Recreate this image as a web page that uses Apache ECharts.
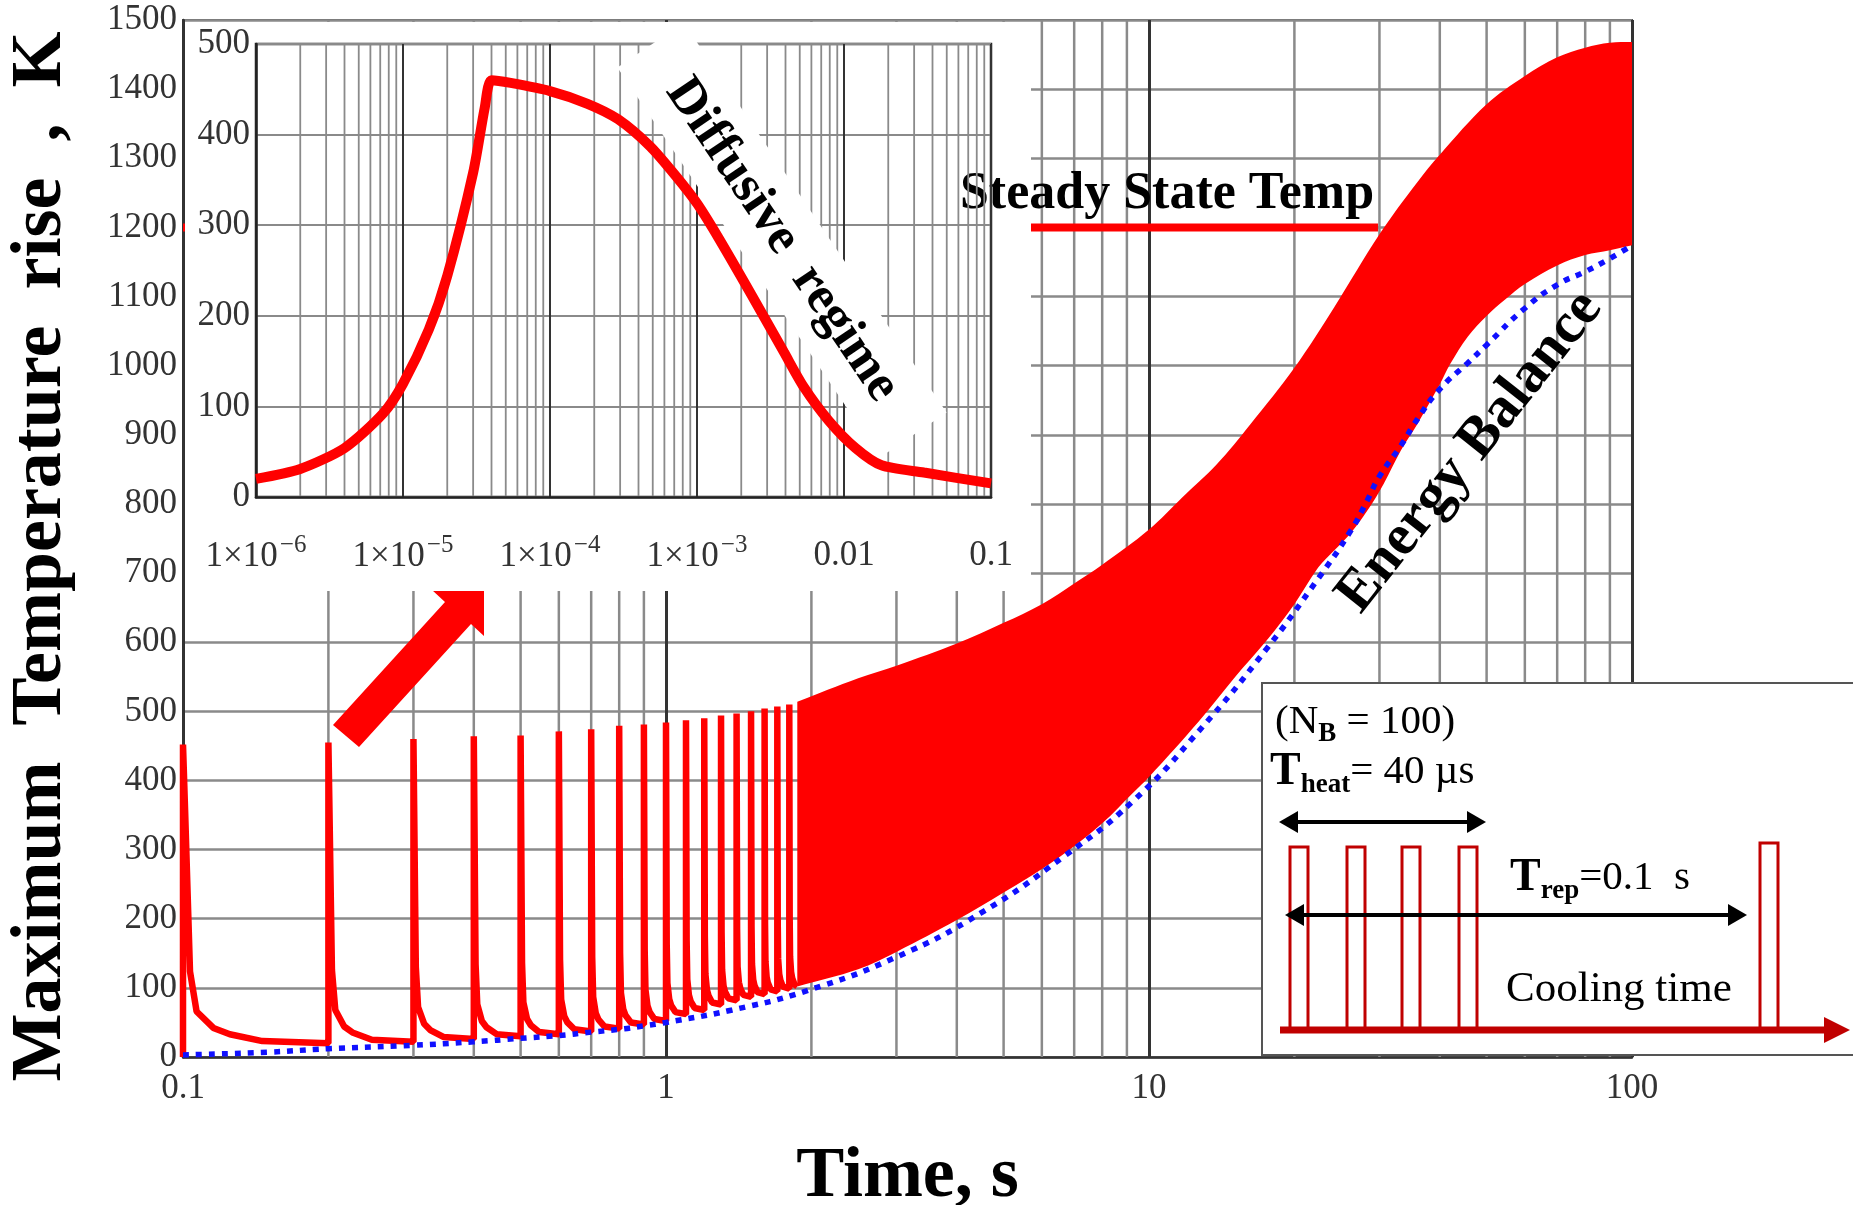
<!DOCTYPE html>
<html>
<head>
<meta charset="utf-8">
<script src="https://cdn.jsdelivr.net/npm/echarts@6.0.0/dist/echarts.min.js"></script>
<style>
html, body { margin: 0; padding: 0; background: #fff; }
#chart { width: 1853px; height: 1205px; }
</style>
</head>
<body>
<div id="chart"></div>
<script>
// ---- main chart: pulse train (time in s, temperature rise in K)
const spikeTimes = [0.1, 0.2, 0.3, 0.4, 0.5, 0.6, 0.7, 0.8, 0.9, 1.0, 1.1, 1.2, 1.3, 1.4, 1.5, 1.6, 1.7, 1.8];
const spikePeaks = [452, 455, 460, 464, 465, 471, 474, 479, 481, 484, 487, 490, 494, 497, 500, 504, 507, 510];
const spikeBases = [0, 20, 22, 26, 30, 33, 37, 41, 47, 52, 62, 68, 76, 82, 87, 91, 95, 99];
// shape of one spike's decay (seconds after pulse, share of the peak left)
const decayDt = [0, 0.001, 0.0025, 0.0034, 0.0067, 0.0156, 0.025, 0.046];
const decayFrac = [1, 0.78, 0.44, 0.24, 0.106, 0.051, 0.030, 0.007];

// dense part of the train: envelope of the band
const bandUpperTime = [1.87, 2.5, 3.0, 4.0, 5.0, 6.0, 7.0, 8.0, 10, 11.7, 13.8, 16.2, 20, 24.2, 30, 35.9, 40, 50, 60, 70, 80, 90, 100];
const bandUpperTemp = [514, 548, 566, 598, 628, 655, 685, 712, 763, 809, 857, 915, 997, 1085, 1190, 1265, 1305, 1378, 1419, 1446, 1460, 1467, 1468];
const bandLowerTime = [1.87, 2.5, 3.0, 4.0, 5.0, 6.0, 7.0, 8.0, 9.26, 10, 12.7, 15, 17.5, 20, 22.4, 24.2, 26.1, 28.3, 30.6, 33.2, 35.9, 40, 42, 45.7, 50, 54.7, 60, 70, 80, 90, 100];
const bandLowerTemp = [102, 127, 152, 198, 238, 272, 305, 338, 382, 405, 486, 548, 602, 655, 708, 733, 757, 790, 829, 877, 915, 973, 1002, 1042, 1072, 1096, 1118, 1145, 1160, 1167, 1174];

// energy balance (blue dotted)
const balanceTime = [0.1, 0.15, 0.2, 0.3, 0.4, 0.5, 0.6, 0.7, 0.8, 0.9, 1.0, 1.37, 1.96, 3.03, 4.48, 6.66, 9.26, 12.7, 17.5, 22.4, 26.1, 28.3, 30, 33.2, 35.9, 40, 45.7, 50, 60, 70, 80, 90, 100];
const balanceTemp = [3, 7, 12, 17, 22, 27, 31, 36, 40, 45, 50, 68, 96, 146, 208, 290, 370, 472, 590, 692, 760, 805, 840, 884, 922, 966, 1004, 1030, 1083, 1117, 1136, 1155, 1174];

// steady state temperature line
const steadyTemp = 1200;
const steadyTime = [0.1, 29.8];

// ---- inset: single pulse
const pulseTime = [1e-6, 2e-6, 4e-6, 7.3e-6, 1e-5, 1.5e-5, 2e-5, 3e-5, 3.6e-5, 4e-5, 5.4e-5, 1e-4, 1.8e-4, 2.9e-4, 4.8e-4, 7.2e-4, 1e-3, 1.4e-3, 2.35e-3, 3.9e-3, 5.3e-3, 7.9e-3, 1.2e-2, 1.8e-2, 3.5e-2, 0.1];
const pulseTemp = [20, 31, 54, 92, 125, 185, 244, 358, 430, 460, 457, 448, 434, 417, 387, 354, 324, 286, 223, 160, 122, 84, 54, 35, 27, 15];

// tick labels
const mainTickLabels = ['0.1', '1', '10', '100'];
const insetTickBase = ['1×10', '1×10', '1×10', '1×10', '0.01', '0.1'];
const insetTickExp = ['−6', '−5', '−4', '−3', '', ''];
const minorSteps = [2, 3, 4, 5, 6, 7, 8, 9];

const serif = "'Liberation Serif', 'Times New Roman', serif";
const labelColor = '#333';

function minorTicks(decades) {
  const out = [];
  decades.forEach(d => minorSteps.forEach(m => out.push([d * m, 0])));
  return out;
}

function spikeLine() {
  const pts = [];
  for (let k = 0; k < spikeTimes.length; k++) {
    const t = spikeTimes[k];
    const nextBase = k + 1 < spikeTimes.length ? spikeBases[k + 1] : bandLowerTemp[0];
    pts.push([t, spikeBases[k]]);
    pts.push([t, spikePeaks[k]]);
    for (let j = 1; j < decayDt.length; j++) {
      pts.push([t + decayDt[j], nextBase + (spikePeaks[k] - nextBase) * decayFrac[j]]);
    }
  }
  pts.push([bandLowerTime[0], bandLowerTemp[0]]);
  return pts;
}

function vLine(color, width, yMax) {
  return function (params, api) {
    const x = api.value(0);
    const a = api.coord([x, 0]);
    const b = api.coord([x, yMax]);
    return {
      type: 'line',
      shape: { x1: a[0], y1: a[1], x2: b[0], y2: b[1] },
      style: { stroke: color, lineWidth: width }
    };
  };
}

const zip = (xs, ys) => xs.map((x, i) => [x, ys[i]]);

const chart = echarts.init(document.getElementById('chart'));

const option = {
  animation: false,
  backgroundColor: '#fff',
  grid: [
    { left: 183, top: 20, width: 1449, height: 1037, show: true, borderColor: '#555', borderWidth: 2, z: 0, outerBoundsMode: 'none', containLabel: false },
    { left: 256, top: 44, width: 735, height: 453, show: true, borderColor: '#222', borderWidth: 2.5, z: 60, outerBoundsMode: 'none', containLabel: false }
  ],
  xAxis: [
    {
      type: 'log', gridIndex: 0, logBase: 10, min: 0.1, max: 100,
      axisLine: { show: true, lineStyle: { color: '#333', width: 2.5 } },
      axisTick: { show: false },
      splitLine: { show: true, lineStyle: { color: '#333', width: 3 } },
      axisLabel: {
        margin: 14, fontFamily: serif, fontSize: 35, color: labelColor,
        showMinLabel: true, showMaxLabel: true,
        formatter: v => mainTickLabels[Math.round(Math.log10(v)) + 1]
      },
      name: 'Time, s', nameLocation: 'middle', nameGap: 84,
      nameTextStyle: { fontFamily: serif, fontWeight: 'bold', fontSize: 72, color: '#000' }
    },
    {
      type: 'log', gridIndex: 1, logBase: 10, min: 1e-6, max: 0.1, z: 60,
      axisLine: { show: true, lineStyle: { color: '#222', width: 2.5 } },
      axisTick: { show: false },
      splitLine: { show: true, lineStyle: { color: '#333', width: 2 } },
      axisLabel: {
        margin: 36, color: labelColor, showMinLabel: true, showMaxLabel: true,
        formatter: v => {
          const i = Math.round(Math.log10(v)) + 6;
          return insetTickExp[i] ? '{m|' + insetTickBase[i] + '}{e|' + insetTickExp[i] + '}' : '{m|' + insetTickBase[i] + '}';
        },
        rich: {
          m: { fontFamily: serif, fontSize: 35, lineHeight: 46, color: labelColor },
          e: { fontFamily: serif, fontSize: 25, color: labelColor, verticalAlign: 'bottom', padding: [0, 0, 22, 2] }
        }
      }
    }
  ],
  yAxis: [
    {
      type: 'value', gridIndex: 0, min: 0, max: 1500, interval: 100,
      axisLine: { show: true, lineStyle: { color: '#333', width: 2.5 } },
      axisTick: { show: false },
      splitLine: { show: true, lineStyle: { color: '#8a8a8a', width: 2.5 } },
      axisLabel: { margin: 6, fontFamily: serif, fontSize: 35, color: labelColor, formatter: v => String(v) },
      name: 'Maximum  Temperature  rise  ,  K', nameLocation: 'middle', nameGap: 106, nameRotate: 90,
      nameTextStyle: { fontFamily: serif, fontWeight: 'bold', fontSize: 72, color: '#000', padding: [0, 36, 0, 0] }
    },
    {
      type: 'value', gridIndex: 1, min: 0, max: 500, interval: 100, z: 60,
      axisLine: { show: true, lineStyle: { color: '#222', width: 2.5 } },
      axisTick: { show: false },
      splitLine: { show: true, lineStyle: { color: '#8a8a8a', width: 2 } },
      axisLabel: { margin: 6, fontFamily: serif, fontSize: 35, color: labelColor, formatter: v => String(v) }
    }
  ],
  series: [
    {
      name: 'main minor grid', type: 'custom', xAxisIndex: 0, yAxisIndex: 0, z: 1, silent: true,
      data: minorTicks([0.1, 1, 10]), renderItem: vLine('#8a8a8a', 2.5, 1500)
    },
    {
      name: 'pulse band', type: 'custom', xAxisIndex: 0, yAxisIndex: 0, z: 3, silent: true, clip: true,
      data: [[bandUpperTime[0], bandUpperTemp[0]]],
      renderItem: function (params, api) {
        const pts = [];
        // corners are doubled so the smoothing keeps them sharp
        bandUpperTime.forEach((t, i) => pts.push(api.coord([t, bandUpperTemp[i]])));
        pts.push(pts[pts.length - 1].slice());
        const low = [];
        bandLowerTime.forEach((t, i) => low.push(api.coord([t, bandLowerTemp[i]])));
        low.reverse();
        pts.push(low[0].slice());
        low.forEach(p => pts.push(p));
        pts.push(low[low.length - 1].slice());
        pts.unshift(pts[0].slice());
        return { type: 'polygon', shape: { points: pts, smooth: 0.35 }, style: { fill: '#ff0000' } };
      }
    },
    {
      name: 'pulse train', type: 'line', xAxisIndex: 0, yAxisIndex: 0, z: 3,
      data: spikeLine(), showSymbol: false, clip: true,
      lineStyle: { color: '#ff0000', width: 6.5 }
    },
    {
      name: 'steady state', type: 'line', xAxisIndex: 0, yAxisIndex: 0, z: 3,
      data: steadyTime.map(t => [t, steadyTemp]), showSymbol: false,
      lineStyle: { color: '#ff0000', width: 8 }
    },
    {
      name: 'energy balance', type: 'line', xAxisIndex: 0, yAxisIndex: 0, z: 4,
      data: zip(balanceTime, balanceTemp), showSymbol: false, smooth: true,
      lineStyle: { color: '#1010ff', width: 5.5, type: [6, 7] }
    },
    {
      name: 'inset minor grid', type: 'custom', xAxisIndex: 1, yAxisIndex: 1, z: 60, silent: true,
      data: minorTicks([1e-6, 1e-5, 1e-4, 1e-3, 1e-2]), renderItem: vLine('#8a8a8a', 1.8, 500)
    },
    {
      name: 'single pulse', type: 'line', xAxisIndex: 1, yAxisIndex: 1, z: 63,
      data: zip(pulseTime, pulseTemp), showSymbol: false, smooth: 0.25,
      lineStyle: { color: '#ff0000', width: 10 }
    }
  ],
  graphic: [
    // white backing of the inset
    { type: 'rect', z: 50, silent: true, shape: { x: 185, y: 22, width: 846, height: 569 }, style: { fill: '#fff' } },
    // red arrow pointing to the inset
    {
      type: 'polygon', z: 40, silent: true,
      shape: { points: [[333, 725], [445, 602], [432, 590], [484, 584], [484, 636], [471, 624], [359, 747]] },
      style: { fill: '#ff0000' }
    },
    // Diffusive regime label
    {
      type: 'group', x: 782, y: 240, rotation: -56 * Math.PI / 180,
      children: [
        { type: 'rect', z: 61, silent: true, shape: { x: -235, y: -40, width: 470, height: 80 }, style: { fill: '#fff' } },
        {
          type: 'text', z: 64, silent: true,
          style: { text: 'Diffusive  regime', x: 0, y: 0, align: 'center', verticalAlign: 'middle', textAlign: 'center', textVerticalAlign: 'middle', font: 'bold 52px ' + serif, fill: '#000' }
        }
      ]
    },
    {
      type: 'text', z: 55, silent: true,
      style: { text: 'Steady State Temp', x: 1167, y: 195, align: 'center', verticalAlign: 'middle', textAlign: 'center', textVerticalAlign: 'middle', font: 'bold 52px ' + serif, fill: '#000' }
    },
    {
      type: 'group', x: 1470, y: 452, rotation: 51.7 * Math.PI / 180,
      children: [{
        type: 'text', z: 40, silent: true,
        style: { text: 'Energy Balance', x: 0, y: 0, align: 'center', verticalAlign: 'middle', textAlign: 'center', textVerticalAlign: 'middle', font: 'bold 58px ' + serif, fill: '#000' }
      }]
    },
    // schematic of the pulse sequence
    { type: 'rect', z: 50, silent: true, shape: { x: 1262, y: 683, width: 620, height: 372 }, style: { fill: '#fff', stroke: '#555', lineWidth: 2 } },
    {
      type: 'text', z: 51, silent: true,
      style: {
        text: '{n|(N}{s|B}{n| = 100)}', x: 1275, y: 722, verticalAlign: 'middle', textVerticalAlign: 'middle',
        rich: { n: { fontFamily: serif, fontSize: 41, lineHeight: 56, fill: '#000' }, s: { fontFamily: serif, fontSize: 27, fontWeight: 'bold', padding: [27, 0, 0, 0], verticalAlign: 'top', fill: '#000' } }
      }
    },
    {
      type: 'text', z: 51, silent: true,
      style: {
        text: '{b|T}{s|heat}{n|= 40 µs}', x: 1270, y: 772, verticalAlign: 'middle', textVerticalAlign: 'middle',
        rich: { b: { fontFamily: serif, fontSize: 46, fontWeight: 'bold', lineHeight: 60, fill: '#000' }, n: { fontFamily: serif, fontSize: 41, lineHeight: 60, fill: '#000' }, s: { fontFamily: serif, fontSize: 27, fontWeight: 'bold', padding: [30, 0, 0, 0], verticalAlign: 'top', fill: '#000' } }
      }
    },
    { type: 'line', z: 51, silent: true, shape: { x1: 1292, y1: 822, x2: 1472, y2: 822 }, style: { stroke: '#000', lineWidth: 4 } },
    { type: 'polygon', z: 51, silent: true, shape: { points: [[1279, 822], [1298, 811], [1298, 833]] }, style: { fill: '#000' } },
    { type: 'polygon', z: 51, silent: true, shape: { points: [[1486, 822], [1467, 811], [1467, 833]] }, style: { fill: '#000' } },
    { type: 'rect', z: 51, silent: true, shape: { x: 1290, y: 847, width: 18, height: 183 }, style: { fill: 'none', stroke: '#c00000', lineWidth: 3 } },
    { type: 'rect', z: 51, silent: true, shape: { x: 1347, y: 847, width: 18, height: 183 }, style: { fill: 'none', stroke: '#c00000', lineWidth: 3 } },
    { type: 'rect', z: 51, silent: true, shape: { x: 1402, y: 847, width: 18, height: 183 }, style: { fill: 'none', stroke: '#c00000', lineWidth: 3 } },
    { type: 'rect', z: 51, silent: true, shape: { x: 1459, y: 847, width: 18, height: 183 }, style: { fill: 'none', stroke: '#c00000', lineWidth: 3 } },
    { type: 'rect', z: 51, silent: true, shape: { x: 1760, y: 843, width: 18, height: 187 }, style: { fill: 'none', stroke: '#c00000', lineWidth: 3 } },
    { type: 'line', z: 51, silent: true, shape: { x1: 1280, y1: 1030, x2: 1828, y2: 1030 }, style: { stroke: '#c00000', lineWidth: 7 } },
    { type: 'polygon', z: 51, silent: true, shape: { points: [[1824, 1017], [1850, 1030], [1824, 1043]] }, style: { fill: '#c00000' } },
    {
      type: 'text', z: 51, silent: true,
      style: {
        text: '{b|T}{s|rep}{n|=0.1  s}', x: 1510, y: 878, verticalAlign: 'middle', textVerticalAlign: 'middle',
        rich: { b: { fontFamily: serif, fontSize: 46, fontWeight: 'bold', lineHeight: 60, fill: '#000' }, n: { fontFamily: serif, fontSize: 41, lineHeight: 60, fill: '#000' }, s: { fontFamily: serif, fontSize: 27, fontWeight: 'bold', padding: [30, 0, 0, 0], verticalAlign: 'top', fill: '#000' } }
      }
    },
    { type: 'line', z: 51, silent: true, shape: { x1: 1298, y1: 915, x2: 1733, y2: 915 }, style: { stroke: '#000', lineWidth: 4 } },
    { type: 'polygon', z: 51, silent: true, shape: { points: [[1285, 915], [1304, 904], [1304, 926]] }, style: { fill: '#000' } },
    { type: 'polygon', z: 51, silent: true, shape: { points: [[1747, 915], [1728, 904], [1728, 926]] }, style: { fill: '#000' } },
    {
      type: 'text', z: 51, silent: true,
      style: { text: 'Cooling time', x: 1506, y: 990, verticalAlign: 'middle', textVerticalAlign: 'middle', font: '43px ' + serif, fill: '#000' }
    }
  ]
};

chart.setOption(option);
</script>
</body>
</html>
